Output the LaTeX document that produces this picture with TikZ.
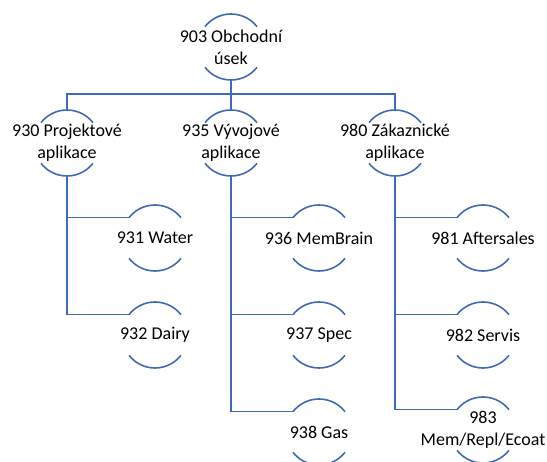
\documentclass[tikz,border=0pt]{standalone}
\usepackage{fontspec}
\setmainfont{Carlito}
\definecolor{orgblue}{RGB}{64,106,182}
\begin{document}
\begin{tikzpicture}[x=1pt,y=1pt,inner sep=0pt,outer sep=0pt,line width=1.6pt,
unit/.style={align=center,font=\fontsize{18}{22}\selectfont},
link/.style={draw=orgblue,line width=1.6pt}]
\useasboundingbox (0,0) rectangle (547,462);
% top level
\node[unit] (top) at (231,415) {903 Obchodní\\úsek};
% second level
\node[unit] (proj) at (67,319) {930 Projektové\\aplikace};
\node[unit] (vyv) at (231,319) {935 Vývojové\\aplikace};
\node[unit] (zak) at (395,319) {980 Zákaznické\\aplikace};
% leaves
\node[unit] (water) at (155,224) {931 Water};
\node[unit] (dairy) at (155,127) {932 Dairy};
\node[unit] (membrain) at (319,224) {936 MemBrain};
\node[unit] (spec) at (319,127) {937 Spec};
\node[unit] (gas) at (319,30) {938 Gas};
\node[unit] (after) at (483,224) {981 Aftersales};
\node[unit] (servis) at (483,127) {982 Servis};
\node[unit] (ecoat) at (483,32) {983\\Mem/Repl/Ecoat};
% arcs and anchor points
\foreach \n in {top,proj,vyv,zak,water,dairy,membrain,spec,gas,after,servis,ecoat} {
  \draw[link] (\n.center) ++(38:33) arc[start angle=38,end angle=142,radius=33];
  \draw[link] (\n.center) ++(-38:33) arc[start angle=-38,end angle=-142,radius=33];
  \path (\n.center) ++(0,33) coordinate (\n-t);
  \path (\n.center) ++(0,-33) coordinate (\n-b);
  \path (\n.center) ++(142:33) coordinate (\n-l);
}
% connectors
\draw[link] (top-b) -- ++(0,-14) -| (proj-t);
\draw[link] (top-b) -- ++(0,-14) -| (zak-t);
\draw[link] (top-b) -- (vyv-t);
\draw[link] (proj-b) |- (water-l);
\draw[link] (proj-b) |- (dairy-l);
\draw[link] (vyv-b) |- (membrain-l);
\draw[link] (vyv-b) |- (spec-l);
\draw[link] (vyv-b) |- (gas-l);
\draw[link] (zak-b) |- (after-l);
\draw[link] (zak-b) |- (servis-l);
\draw[link] (zak-b) |- (ecoat-l);
\end{tikzpicture}
\end{document}
